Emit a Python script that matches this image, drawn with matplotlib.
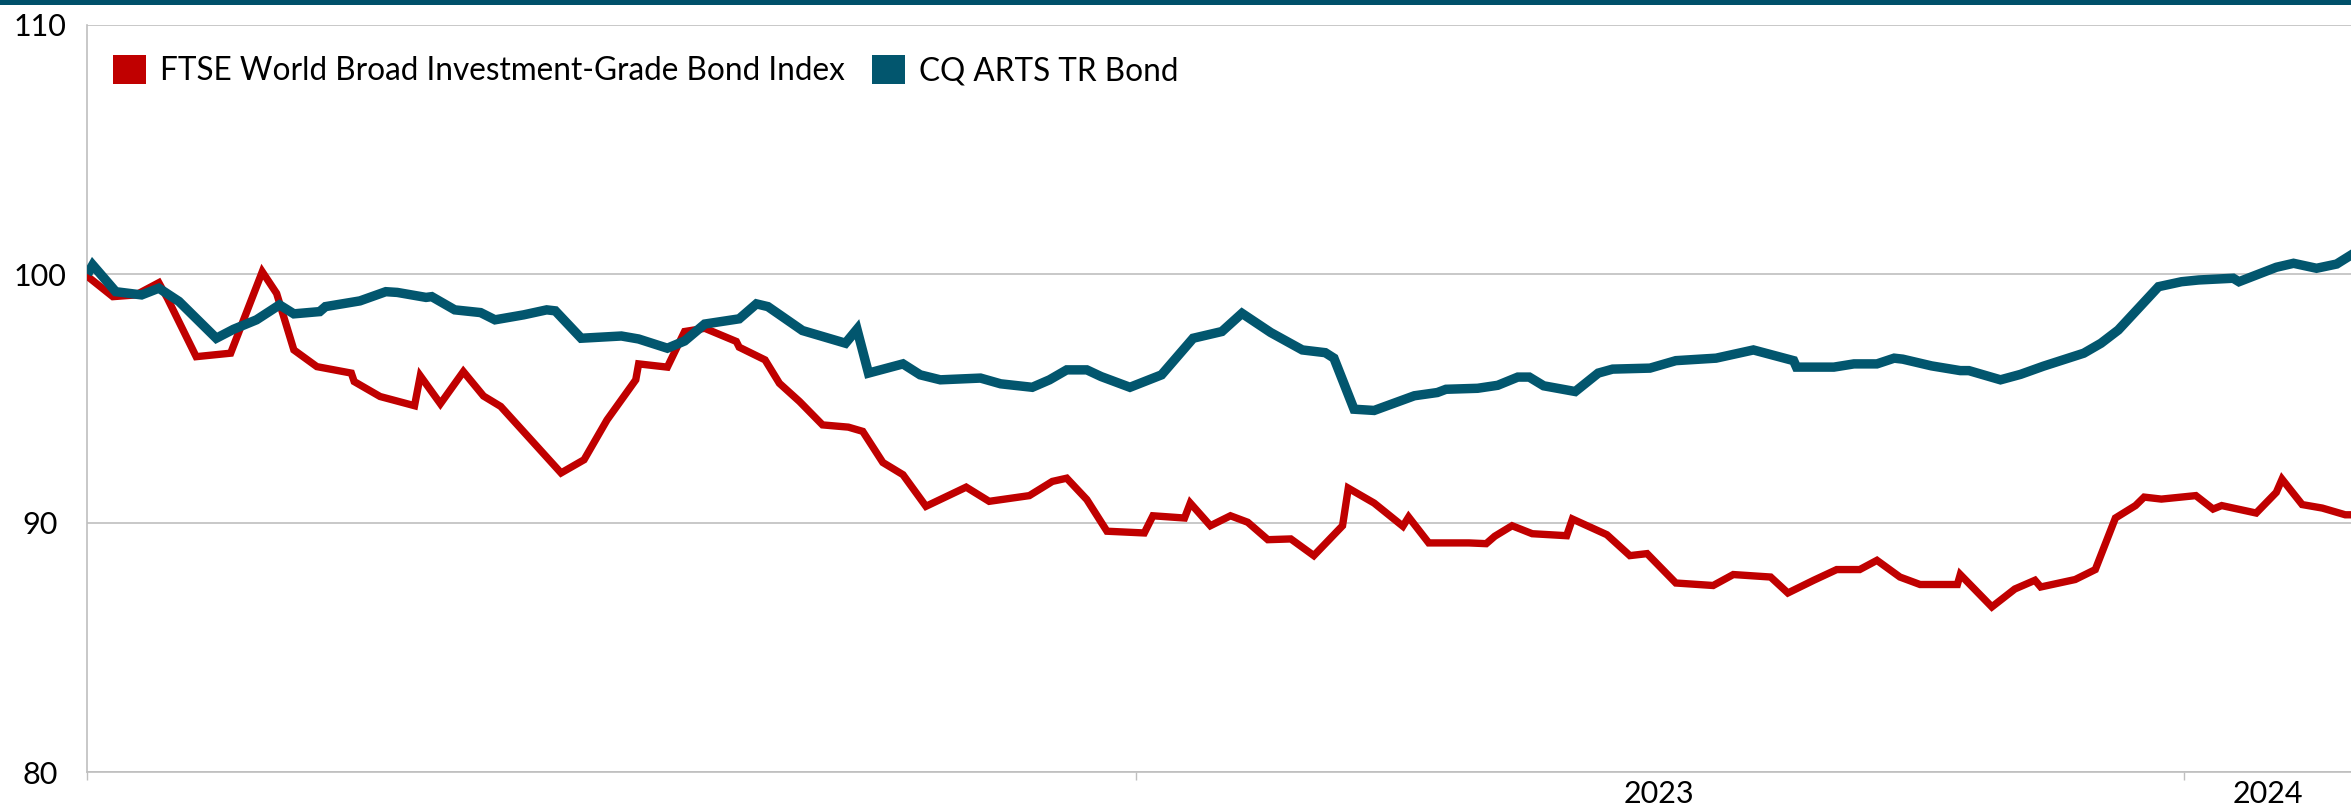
import pandas as pd
import matplotlib
matplotlib.use('Agg')
import matplotlib.pyplot as plt
from matplotlib.patches import Patch, Rectangle

plt.rcParams['font.family'] = ['Lato', 'DejaVu Sans']

series_names = ['FTSE World Broad Investment-Grade Bond Index', 'CQ ARTS TR Bond']

ftse_dates = [
    '2022-01-01', '2022-01-10', '2022-01-18', '2022-01-26', '2022-01-29', '2022-02-08',
    '2022-02-20', '2022-03-03', '2022-03-08', '2022-03-14', '2022-03-22', '2022-04-03',
    '2022-04-04', '2022-04-13', '2022-04-25', '2022-04-27', '2022-05-04', '2022-05-12',
    '2022-05-19', '2022-05-25', '2022-06-15', '2022-06-23', '2022-07-01', '2022-07-11',
    '2022-07-12', '2022-07-22', '2022-07-28', '2022-08-04', '2022-08-15', '2022-08-16',
    '2022-08-25', '2022-08-30', '2022-09-06', '2022-09-14', '2022-09-23', '2022-09-28',
    '2022-10-05', '2022-10-12', '2022-10-20', '2022-11-03', '2022-11-11', '2022-11-25',
    '2022-12-03', '2022-12-08', '2022-12-15', '2022-12-22', '2023-01-04', '2023-01-07',
    '2023-01-18', '2023-01-20', '2023-01-27', '2023-02-03', '2023-02-09', '2023-02-16',
    '2023-02-24', '2023-03-04', '2023-03-14', '2023-03-16', '2023-03-25', '2023-04-04',
    '2023-04-06', '2023-04-13', '2023-04-27', '2023-05-03', '2023-05-06', '2023-05-12',
    '2023-05-19', '2023-05-31', '2023-06-02', '2023-06-14', '2023-06-22', '2023-06-28',
    '2023-07-08', '2023-07-21', '2023-07-28', '2023-08-10', '2023-08-16', '2023-08-25',
    '2023-09-02', '2023-09-10', '2023-09-16', '2023-09-24', '2023-10-01', '2023-10-14',
    '2023-10-15', '2023-10-26', '2023-11-03', '2023-11-10', '2023-11-12', '2023-11-24',
    '2023-12-01', '2023-12-08', '2023-12-15', '2023-12-18', '2023-12-24', '2024-01-05',
    '2024-01-11', '2024-01-14', '2024-01-26', '2024-02-02', '2024-02-04', '2024-02-11',
    '2024-02-18', '2024-02-26', '2024-02-28',
]
ftse_values = [
    99.92, 99.09, 99.16, 99.65, 99.02, 96.68,
    96.82, 100.09, 99.22, 96.95, 96.28, 96.02,
    95.68, 95.08, 94.71, 95.91, 94.79, 96.08,
    95.10, 94.68, 92.01, 92.54, 94.14, 95.75,
    96.39, 96.26, 97.69, 97.82, 97.29, 97.06,
    96.55, 95.61, 94.88, 93.94, 93.85, 93.68,
    92.43, 91.94, 90.67, 91.44, 90.87, 91.10,
    91.67, 91.80, 90.94, 89.67, 89.60, 90.29,
    90.20, 90.80, 89.89, 90.29, 90.03, 89.33,
    89.36, 88.69, 89.89, 91.40, 90.80, 89.87,
    90.24, 89.20, 89.20, 89.17, 89.47, 89.89,
    89.57, 89.49, 90.16, 89.53, 88.69, 88.77,
    87.59, 87.49, 87.93, 87.83, 87.19, 87.70,
    88.13, 88.13, 88.50, 87.83, 87.53, 87.53,
    87.93, 86.63, 87.35, 87.70, 87.43, 87.73,
    88.13, 90.20, 90.70, 91.04, 90.96, 91.10,
    90.56, 90.70, 90.40, 91.23, 91.76, 90.74,
    90.60, 90.33, 90.33,
]

cq_dates = [
    '2022-01-02', '2022-01-03', '2022-01-11', '2022-01-20', '2022-01-26', '2022-02-02',
    '2022-02-15', '2022-02-21', '2022-03-01', '2022-03-09', '2022-03-14', '2022-03-23',
    '2022-03-25', '2022-04-06', '2022-04-15', '2022-04-19', '2022-04-29', '2022-05-01',
    '2022-05-09', '2022-05-18', '2022-05-23', '2022-06-02', '2022-06-10', '2022-06-13',
    '2022-06-22', '2022-07-06', '2022-07-12', '2022-07-22', '2022-07-28', '2022-08-04',
    '2022-08-16', '2022-08-22', '2022-08-26', '2022-09-07', '2022-09-22', '2022-09-26',
    '2022-09-30', '2022-10-12', '2022-10-18', '2022-10-25', '2022-11-08', '2022-11-15',
    '2022-11-26', '2022-12-02', '2022-12-08', '2022-12-15', '2022-12-20', '2022-12-30',
    '2023-01-10', '2023-01-21', '2023-01-31', '2023-02-07', '2023-02-17', '2023-02-28',
    '2023-03-08', '2023-03-11', '2023-03-18', '2023-03-25', '2023-04-08', '2023-04-16',
    '2023-04-19', '2023-04-30', '2023-05-07', '2023-05-14', '2023-05-18', '2023-05-23',
    '2023-06-03', '2023-06-11', '2023-06-16', '2023-06-29', '2023-07-08', '2023-07-22',
    '2023-08-04', '2023-08-18', '2023-08-19', '2023-09-01', '2023-09-08', '2023-09-16',
    '2023-09-22', '2023-09-25', '2023-10-05', '2023-10-15', '2023-10-18', '2023-10-29',
    '2023-11-05', '2023-11-13', '2023-11-27', '2023-12-03', '2023-12-09', '2023-12-23',
    '2023-12-31', '2024-01-06', '2024-01-18', '2024-01-20', '2024-02-02', '2024-02-08',
    '2024-02-16', '2024-02-23', '2024-02-28',
]
cq_values = [
    100.16, 100.36, 99.29, 99.16, 99.43, 98.90,
    97.42, 97.78, 98.16, 98.76, 98.40, 98.49,
    98.69, 98.92, 99.29, 99.26, 99.06, 99.09,
    98.56, 98.45, 98.16, 98.36, 98.56, 98.52,
    97.42, 97.51, 97.39, 97.02, 97.31, 97.99,
    98.20, 98.80, 98.69, 97.73, 97.22, 97.78,
    96.02, 96.39, 95.95, 95.75, 95.82, 95.59,
    95.45, 95.75, 96.15, 96.15, 95.88, 95.45,
    95.95, 97.42, 97.69, 98.42, 97.65, 96.95,
    96.84, 96.62, 94.57, 94.52, 95.11, 95.24,
    95.37, 95.41, 95.53, 95.86, 95.86, 95.51,
    95.28, 96.02, 96.18, 96.22, 96.52, 96.62,
    96.95, 96.52, 96.26, 96.26, 96.39, 96.39,
    96.62, 96.58, 96.31, 96.12, 96.12, 95.75,
    95.97, 96.30, 96.82, 97.22, 97.75, 99.49,
    99.69, 99.76, 99.83, 99.69, 100.27, 100.43,
    100.23, 100.40, 100.76,
]

y_ticks = [80, 90, 100, 110]
year_starts = ['2022-01-01', '2023-01-01', '2024-01-01']
year_labels = ['2023', '2024']
year_label_pos = ['2023-07-02', '2024-01-30']
x_start, x_end = '2022-01-01', '2024-02-28'

red = '#C00000'
teal = '#02566E'
grid_col = '#BFBFBF'

fig = plt.figure(figsize=(23.51, 8.09), dpi=100)
ax = fig.add_axes([87 / 2351, 1 - 772 / 809, 1 - 87 / 2351, (772 - 25) / 809])

ax.plot(pd.to_datetime(ftse_dates), ftse_values, color=red, lw=5.3,
        solid_joinstyle='miter', zorder=3)
ax.plot(pd.to_datetime(cq_dates), cq_values, color=teal, lw=6.8,
        solid_joinstyle='miter', zorder=4)

ax.set_ylim(80, 110)
ax.set_yticks(y_ticks)
ax.set_xlim(pd.Timestamp(x_start), pd.Timestamp(x_end))
ax.yaxis.grid(True, color=grid_col, lw=1.2)
ax.set_axisbelow(True)

for s in ['top', 'right']:
    ax.spines[s].set_visible(False)
for s in ['left', 'bottom']:
    ax.spines[s].set_color(grid_col)
    ax.spines[s].set_linewidth(1.2)

ax.tick_params(axis='y', length=0, pad=34, labelsize=22)
for lab in ax.get_yticklabels():
    lab.set_horizontalalignment('center')

# year boundaries get tick marks, year names sit between them
ax.set_xticks(pd.to_datetime(year_starts))
ax.set_xticklabels([''] * len(year_starts))
ax.set_xticks(pd.to_datetime(year_label_pos), minor=True)
ax.set_xticklabels(year_labels, minor=True)
ax.tick_params(axis='x', which='major', length=6, width=1, color=grid_col)
ax.tick_params(axis='x', which='minor', length=0, pad=6, labelsize=22)

handles = [Patch(facecolor=red, edgecolor='none'), Patch(facecolor=teal, edgecolor='none')]
ax.legend(handles, series_names, loc='upper left', frameon=False, fontsize=22.7,
          ncol=2, handlelength=1.05, handleheight=1.05, handletextpad=0.45,
          columnspacing=0.85, borderpad=0, borderaxespad=0,
          bbox_to_anchor=(113 / 2351, 1 - 55 / 809), bbox_transform=fig.transFigure)

# dark band along the top edge
fig.patches.append(Rectangle((0, 1 - 5 / 809), 1, 5 / 809, transform=fig.transFigure,
                             facecolor='#00506A', edgecolor='none', zorder=10))

fig.savefig('out.png', dpi=100)
